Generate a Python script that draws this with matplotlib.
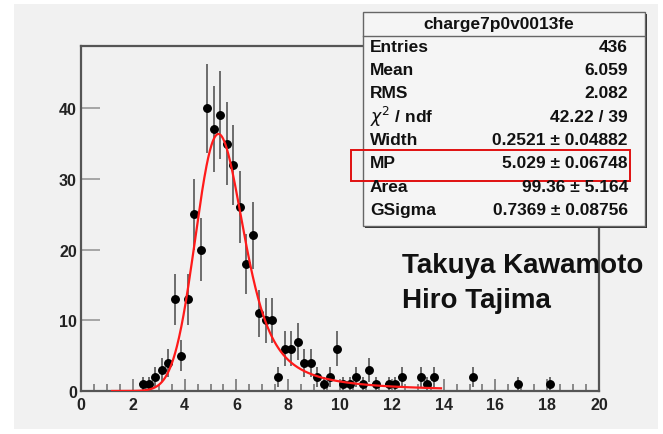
import numpy as np
import matplotlib
matplotlib.use('Agg')
import matplotlib.pyplot as plt
from matplotlib.patches import Rectangle
from matplotlib.ticker import MultipleLocator

plt.rcParams['font.family'] = ['Liberation Sans', 'DejaVu Sans']

# histogram contents (bin width 0.25), only non-empty bins
bin_centres = [2.375, 2.625, 2.875, 3.125, 3.375, 3.625, 3.875, 4.125, 4.375, 4.625,
               4.875, 5.125, 5.375, 5.625, 5.875, 6.125, 6.375, 6.625, 6.875, 7.125,
               7.375, 7.625, 7.875, 8.125, 8.375, 8.625, 8.875, 9.125, 9.375, 9.625,
               9.875, 10.125, 10.375, 10.625, 10.875, 11.125, 11.375, 11.875, 12.125, 12.375,
               13.125, 13.375, 13.625, 15.125, 16.875, 18.125]
counts = [1, 1, 2, 3, 4, 13, 5, 13, 25, 20,
          40, 37, 39, 35, 32, 26, 18, 22, 11, 10,
          10, 2, 6, 6, 7, 4, 4, 2, 1, 2,
          6, 1, 1, 2, 1, 3, 1, 1, 1, 2,
          2, 1, 2, 2, 1, 1]
bin_width = 0.25

# landau (x) gauss fit result
fit_width = 0.2521
fit_mp = 5.029
fit_area = 99.36
fit_gsigma = 0.7369
fit_range = (1.2, 13.9)

hist_name = 'charge7p0v0013fe'
stat_labels = ['Entries', 'Mean', 'RMS', r'$\chi^2$ / ndf', 'Width', 'MP', 'Area', 'GSigma']
stat_values = ['436', '6.059', '2.082', '42.22 / 39', '0.2521 \u00b1 0.04882',
               '5.029 \u00b1 0.06748', '99.36 \u00b1 5.164', '0.7369 \u00b1 0.08756']
authors = ['Takuya Kawamoto', 'Hiro Tajima']


def landau_density(lam):
    # phi(l) = 1/pi * int_0^inf exp(-t ln t - l t) sin(pi t) dt
    s = np.linspace(0, 1, 20001)[1:]
    t = 60.0 * s**2
    out = np.zeros(len(lam))
    for i in range(0, len(lam), 100):
        l = lam[i:i + 100, None]
        f = np.exp(-t * np.log(t) - l * t) * np.sin(np.pi * t)
        out[i:i + 100] = np.trapezoid(f, t, axis=1) / np.pi
    return np.clip(out, 0, None)


lam_grid = np.linspace(-3, 60, 3151)
phi_grid = landau_density(lam_grid)

# same parametrisation as the ROOT langaus macro
mpshift = -0.22278298
mpc = fit_mp - mpshift * fit_width
x_fit = np.linspace(fit_range[0], fit_range[1], 600)
u = np.linspace(-5 * fit_gsigma, 5 * fit_gsigma, 401)
gauss = np.exp(-0.5 * (u / fit_gsigma)**2) / (np.sqrt(2 * np.pi) * fit_gsigma)
lam = (x_fit[:, None] + u[None, :] - mpc) / fit_width
land = np.interp(lam, lam_grid, phi_grid, left=0, right=0) / fit_width
y_fit = fit_area * np.trapezoid(land * gauss[None, :], u, axis=1)

W, H = 663, 435
fig = plt.figure(figsize=(W / 100, H / 100), dpi=100, facecolor='white')

# canvas background panel
bg = fig.add_axes([0, 0, 1, 1], zorder=-1)
bg.set_xlim(0, W)
bg.set_ylim(H, 0)
bg.axis('off')
bg.add_patch(Rectangle((14, 5), 644, 425, facecolor='#f1f1f1', edgecolor='none'))

ax = fig.add_axes([81 / W, (H - 392) / H, 518 / W, 345 / H], zorder=1)
ax.set_facecolor('none')
x = np.array(bin_centres)
y = np.array(counts)
ax.errorbar(x, y, yerr=np.sqrt(y), xerr=bin_width / 2, fmt='o', color='black',
            ms=5.4, ecolor='#555555', elinewidth=1.2, capsize=0, zorder=3)
ax.plot(x_fit, y_fit, color='#ff1a1a', lw=1.6, zorder=4)

ax.set_xlim(0, 20)
ax.set_ylim(0, 48.8)
ax.xaxis.set_major_locator(MultipleLocator(2))
ax.xaxis.set_minor_locator(MultipleLocator(0.5))
ax.yaxis.set_major_locator(MultipleLocator(10))
ax.tick_params(axis='x', which='major', direction='in', length=9, width=1.2,
               color='#777777', pad=4, labelsize=11.5)
ax.tick_params(axis='x', which='minor', direction='in', length=5, width=1.2,
               color='#777777')
ax.tick_params(axis='y', which='major', direction='in', length=14, width=1.2,
               color='#999999', pad=3, labelsize=11.5)
for lab in ax.get_xticklabels() + ax.get_yticklabels():
    lab.set_fontweight('bold')
    lab.set_color('#222222')
for sp in ax.spines.values():
    sp.set_color('#555555')
    sp.set_linewidth(1.6)

# overlay in pixel coordinates: stats box, highlight, names
ov = fig.add_axes([0, 0, 1, 1], zorder=2)
ov.set_xlim(0, W)
ov.set_ylim(H, 0)
ov.axis('off')

bx0, by0, bx1, by1 = 363, 13, 645, 227
ov.add_patch(Rectangle((bx0 + 2, by0 + 2), bx1 - bx0, by1 - by0, facecolor='#333333',
                       edgecolor='none'))
ov.add_patch(Rectangle((bx0, by0), bx1 - bx0, by1 - by0, facecolor='#f5f5f5',
                       edgecolor='#666666', lw=1))
ov.plot([bx0, bx1], [37, 37], color='#666666', lw=1)
ov.text((bx0 + bx1) / 2 - 5, 25, hist_name, ha='center', va='center', fontsize=12.5,
        fontweight='bold', color='#111111')
for i, (lab, val) in enumerate(zip(stat_labels, stat_values)):
    yy = 47 + 23.4 * i
    ov.text(370, yy, lab, ha='left', va='center', fontsize=12.5, fontweight='bold',
            color='#111111')
    ov.text(628, yy, val, ha='right', va='center', fontsize=12.5, fontweight='bold',
            color='#111111')

ov.add_patch(Rectangle((351, 151), 279, 31, facecolor='none', edgecolor='#e01010', lw=1.4))

ov.text(402, 273, authors[0], ha='left', va='baseline', fontsize=20, fontweight='bold',
        color='#111111')
ov.text(402, 308, authors[1], ha='left', va='baseline', fontsize=20, fontweight='bold',
        color='#111111')

fig.savefig('out.png', dpi=100, facecolor='white')
